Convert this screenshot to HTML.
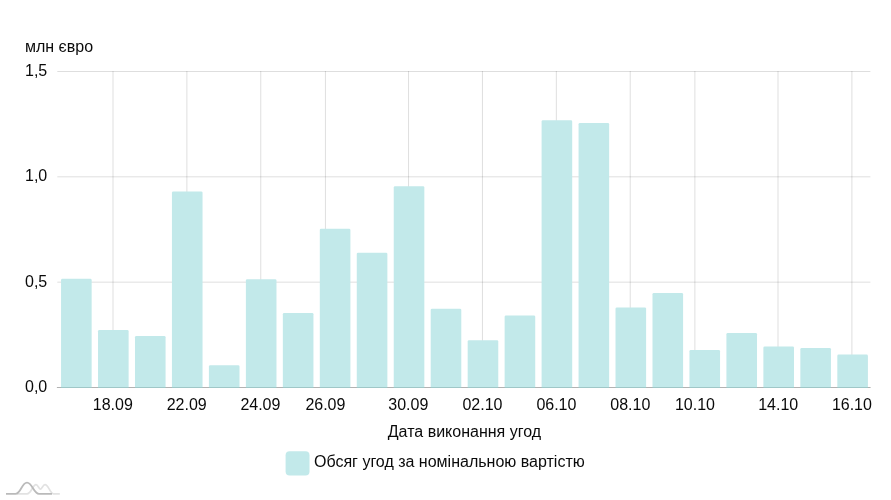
<!DOCTYPE html>
<html lang="uk"><head><meta charset="utf-8"><title>chart</title>
<style>
html,body{margin:0;padding:0;background:#fff;}
body{width:891px;height:500px;overflow:hidden;font-family:"Liberation Sans",Arial,sans-serif;}
svg{display:block}
text{font-family:"Liberation Sans",Arial,sans-serif;font-size:16px;fill:#0a0a0a}
</style></head><body>
<svg width="891" height="500" viewBox="0 0 891 500">
<g stroke="#000" stroke-opacity="0.13" stroke-width="1">
<line x1="113.00" x2="113.00" y1="71" y2="387"/>
<line x1="186.89" x2="186.89" y1="71" y2="387"/>
<line x1="260.78" x2="260.78" y1="71" y2="387"/>
<line x1="325.43" x2="325.43" y1="71" y2="387"/>
<line x1="408.56" x2="408.56" y1="71" y2="387"/>
<line x1="482.45" x2="482.45" y1="71" y2="387"/>
<line x1="556.34" x2="556.34" y1="71" y2="387"/>
<line x1="630.23" x2="630.23" y1="71" y2="387"/>
<line x1="694.88" x2="694.88" y1="71" y2="387"/>
<line x1="778.01" x2="778.01" y1="71" y2="387"/>
<line x1="851.90" x2="851.90" y1="71" y2="387"/>
<line x1="57.3" x2="870.4" y1="71.5" y2="71.5"/>
<line x1="57.3" x2="870.4" y1="176.83" y2="176.83"/>
<line x1="57.3" x2="870.4" y1="282.17" y2="282.17"/>
</g>
<line x1="56.9" x2="870.6" y1="387.5" y2="387.5" stroke="#b2b2b2" stroke-width="1"/>
<g fill="#c2e9ea">
<path d="M61.05 387V280.15Q61.05 278.85 62.35 278.85H90.35Q91.65 278.85 91.65 280.15V387Z"/>
<path d="M98.02 387V331.30Q98.02 330.00 99.31 330.00H127.32Q128.62 330.00 128.62 331.30V387Z"/>
<path d="M134.98 387V337.20Q134.98 335.90 136.28 335.90H164.28Q165.58 335.90 165.58 337.20V387Z"/>
<path d="M171.94 387V192.80Q171.94 191.50 173.25 191.50H201.24Q202.54 191.50 202.54 192.80V387Z"/>
<path d="M208.91 387V366.60Q208.91 365.30 210.21 365.30H238.21Q239.51 365.30 239.51 366.60V387Z"/>
<path d="M245.88 387V280.50Q245.88 279.20 247.18 279.20H275.18Q276.48 279.20 276.48 280.50V387Z"/>
<path d="M282.84 387V314.30Q282.84 313.00 284.14 313.00H312.14Q313.44 313.00 313.44 314.30V387Z"/>
<path d="M319.81 387V230.10Q319.81 228.80 321.11 228.80H349.11Q350.41 228.80 350.41 230.10V387Z"/>
<path d="M356.77 387V254.00Q356.77 252.70 358.07 252.70H386.07Q387.37 252.70 387.37 254.00V387Z"/>
<path d="M393.74 387V187.50Q393.74 186.20 395.04 186.20H423.04Q424.34 186.20 424.34 187.50V387Z"/>
<path d="M430.70 387V310.10Q430.70 308.80 432.00 308.80H460.00Q461.30 308.80 461.30 310.10V387Z"/>
<path d="M467.67 387V341.45Q467.67 340.15 468.97 340.15H496.97Q498.27 340.15 498.27 341.45V387Z"/>
<path d="M504.63 387V316.80Q504.63 315.50 505.93 315.50H533.93Q535.23 315.50 535.23 316.80V387Z"/>
<path d="M541.60 387V121.50Q541.60 120.20 542.89 120.20H570.90Q572.20 120.20 572.20 121.50V387Z"/>
<path d="M578.56 387V124.30Q578.56 123.00 579.86 123.00H607.86Q609.16 123.00 609.16 124.30V387Z"/>
<path d="M615.52 387V308.80Q615.52 307.50 616.82 307.50H644.83Q646.12 307.50 646.12 308.80V387Z"/>
<path d="M652.49 387V294.20Q652.49 292.90 653.79 292.90H681.79Q683.09 292.90 683.09 294.20V387Z"/>
<path d="M689.46 387V351.30Q689.46 350.00 690.75 350.00H718.76Q720.06 350.00 720.06 351.30V387Z"/>
<path d="M726.42 387V334.30Q726.42 333.00 727.72 333.00H755.72Q757.02 333.00 757.02 334.30V387Z"/>
<path d="M763.38 387V347.70Q763.38 346.40 764.68 346.40H792.69Q793.99 346.40 793.99 347.70V387Z"/>
<path d="M800.35 387V349.30Q800.35 348.00 801.65 348.00H829.65Q830.95 348.00 830.95 349.30V387Z"/>
<path d="M837.32 387V355.90Q837.32 354.60 838.62 354.60H866.62Q867.92 354.60 867.92 355.90V387Z"/>
</g>
<g fill="#9fc7c7">
<rect x="61.05" y="387" width="30.6" height="1"/>
<rect x="98.02" y="387" width="30.6" height="1"/>
<rect x="134.98" y="387" width="30.6" height="1"/>
<rect x="171.94" y="387" width="30.6" height="1"/>
<rect x="208.91" y="387" width="30.6" height="1"/>
<rect x="245.88" y="387" width="30.6" height="1"/>
<rect x="282.84" y="387" width="30.6" height="1"/>
<rect x="319.81" y="387" width="30.6" height="1"/>
<rect x="356.77" y="387" width="30.6" height="1"/>
<rect x="393.74" y="387" width="30.6" height="1"/>
<rect x="430.70" y="387" width="30.6" height="1"/>
<rect x="467.67" y="387" width="30.6" height="1"/>
<rect x="504.63" y="387" width="30.6" height="1"/>
<rect x="541.60" y="387" width="30.6" height="1"/>
<rect x="578.56" y="387" width="30.6" height="1"/>
<rect x="615.52" y="387" width="30.6" height="1"/>
<rect x="652.49" y="387" width="30.6" height="1"/>
<rect x="689.46" y="387" width="30.6" height="1"/>
<rect x="726.42" y="387" width="30.6" height="1"/>
<rect x="763.38" y="387" width="30.6" height="1"/>
<rect x="800.35" y="387" width="30.6" height="1"/>
<rect x="837.32" y="387" width="30.6" height="1"/>
</g>
<text x="25" y="75.90">1,5</text>
<text x="25" y="181.23">1,0</text>
<text x="25" y="286.57">0,5</text>
<text x="25" y="391.90">0,0</text>
<text x="112.8" y="410" text-anchor="middle">18.09</text>
<text x="186.7" y="410" text-anchor="middle">22.09</text>
<text x="260.4" y="410" text-anchor="middle">24.09</text>
<text x="325.4" y="410" text-anchor="middle">26.09</text>
<text x="408.3" y="410" text-anchor="middle">30.09</text>
<text x="482.5" y="410" text-anchor="middle">02.10</text>
<text x="556.4" y="410" text-anchor="middle">06.10</text>
<text x="630.3" y="410" text-anchor="middle">08.10</text>
<text x="695.0" y="410" text-anchor="middle">10.10</text>
<text x="778.2" y="410" text-anchor="middle">14.10</text>
<text x="851.9" y="410" text-anchor="middle">16.10</text>
<text x="25" y="52">млн євро</text>
<text x="464.4" y="437" text-anchor="middle">Дата виконання угод</text>
<rect x="285.6" y="451.2" width="23.9" height="24.3" rx="4" fill="#c2e9ea"/>
<text x="314" y="467">Обсяг угод за номінальною вартістю</text>
<g fill="none" stroke-linecap="butt">
<path d="M17 493.8 L27 493.8 C31.5 493.8 32.5 484.6 36 484.6 C38 484.6 39 489.2 40.4 489.2 C41.8 489.2 43 484.6 45 484.6 C48.5 484.6 50 493.8 53.5 493.8 L59.8 493.8" stroke="#e2e2e2" stroke-width="1.7"/>
<path d="M6 493.8 L15.5 493.8 C21 493.8 21.5 482.6 27 482.6 C32.5 482.6 33.5 493.8 39 493.8 L52 493.8" stroke="#bababa" stroke-width="1.8"/>
</g>
</svg></body></html>
